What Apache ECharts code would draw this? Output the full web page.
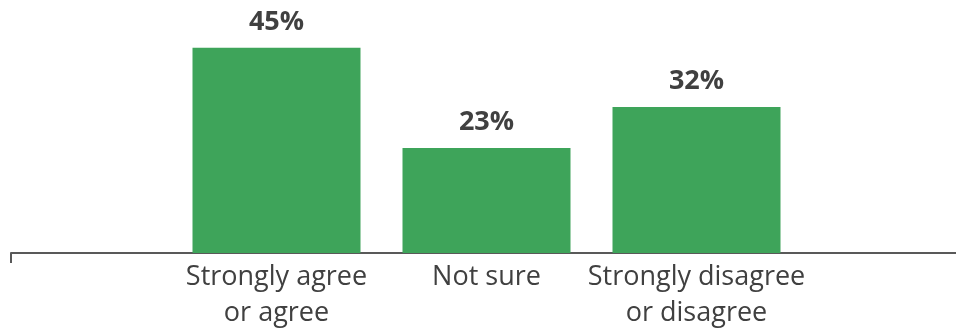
<!DOCTYPE html>
<html>
<head>
<meta charset="utf-8">
<script src="https://cdn.jsdelivr.net/npm/echarts@6/dist/echarts.min.js"></script>
<style>
  html, body { margin: 0; padding: 0; background: #fff; }
  #charts { width: 956px; height: 332px; }
</style>
</head>
<body>
<div id="charts"></div>
<script>
const categories = ['Strongly agree\nor agree', 'Not sure', 'Strongly disagree\nor disagree'];
const shares = [45, 23, 32];

const option = {
    animation: false,
    textStyle: { fontFamily: 'Open Sans' },
    grid: [
        { left: 171.5, width: 630, top: 25, bottom: 79 }, // bars
        { left: 11, right: 0, top: 25, bottom: 79 }       // long baseline
    ],
    xAxis: [{
        type: 'category',
        gridIndex: 0,
        data: categories,
        axisLine: { show: false },
        axisTick: { show: false },
        axisLabel: {
            color: '#404040',
            fontSize: 27,
            lineHeight: 36,
            margin: 6,
            interval: 0
        }
    }, {
        type: 'value',
        gridIndex: 1,
        min: 0,
        max: 1,
        interval: 1,
        axisLine: { show: true, lineStyle: { color: '#595959', width: 2 } },
        axisTick: { show: true, length: 10, customValues: [0], lineStyle: { color: '#595959', width: 2 } },
        axisLabel: { show: false },
        splitLine: { show: false }
    }],
    yAxis: [
        { type: 'value', gridIndex: 0, min: 0, max: 50, show: false },
        { type: 'value', gridIndex: 1, min: 0, max: 50, show: false }
    ],
    series: [{
        type: 'bar',
        xAxisIndex: 0,
        yAxisIndex: 0,
        data: shares,
        barWidth: '80%',
        itemStyle: { color: '#3ea45a' },
        label: {
            show: true,
            position: 'top',
            distance: 12,
            formatter: '{c}%',
            color: '#404040',
            fontSize: 27,
            fontWeight: 'bold'
        }
    }]
};
const chart = echarts.init(document.getElementById('charts'));
chart.setOption(option);
</script>
</body>
</html>
